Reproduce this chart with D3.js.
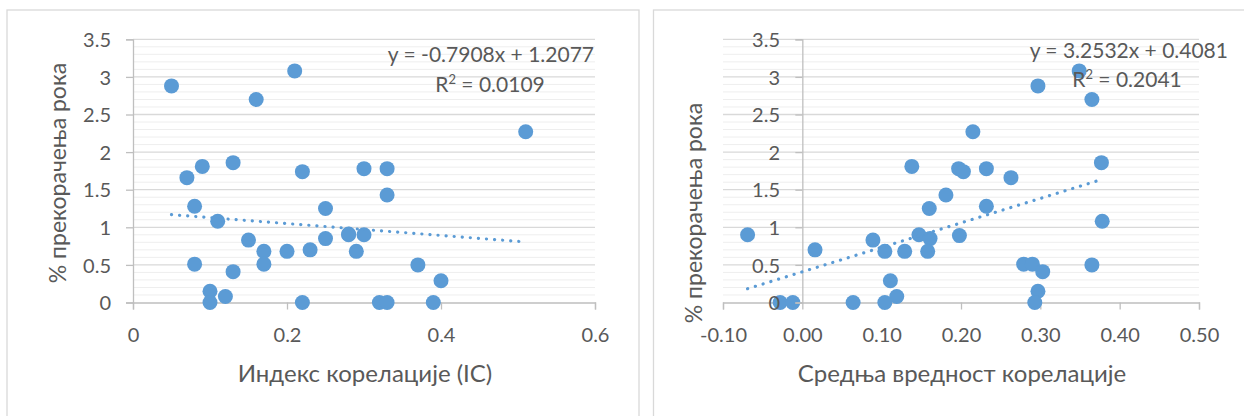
<!DOCTYPE html>
<html>
<head>
<meta charset="utf-8">
<script src="https://cdn.jsdelivr.net/npm/d3@7"></script>
<style>
  html, body { margin: 0; padding: 0; background: #fff; }
  svg { display: block; }
  text { font-family: "Lato", "Carlito", "Open Sans", sans-serif; fill: #595959; }
</style>
</head>
<body>
<svg id="chart" width="1244" height="416"></svg>
<script>
// Overrun percentage for each project
const overrunLeft = [3.08, 2.88, 2.70, 2.27, 1.86, 1.81, 1.78, 1.78, 1.74, 1.66,
                     1.43, 1.28, 1.25, 1.08, 0.90, 0.91, 0.90, 0.85, 0.83, 0.70,
                     0.68, 0.68, 0.68, 0.51, 0.51, 0.50, 0.41, 0.29, 0.15, 0.08,
                     0, 0, 0, 0, 0];
// Correlation index (IC)
const icValues = [0.21, 0.05, 0.16, 0.51, 0.13, 0.09, 0.30, 0.33, 0.22, 0.07,
                  0.33, 0.08, 0.25, 0.11, 0.28, 0.28, 0.30, 0.25, 0.15, 0.23,
                  0.17, 0.20, 0.29, 0.08, 0.17, 0.37, 0.13, 0.40, 0.10, 0.12,
                  0.10, 0.22, 0.32, 0.33, 0.39];

const overrunRight = [3.08, 2.88, 2.70, 2.27, 1.86, 1.81, 1.78, 1.78, 1.74, 1.66,
                      1.43, 1.28, 1.25, 1.08, 0.90, 0.90, 0.89, 0.85, 0.83, 0.70,
                      0.68, 0.68, 0.68, 0.51, 0.51, 0.50, 0.41, 0.29, 0.15, 0.08,
                      0, 0, 0, 0, 0];
// Mean correlation value
const meanCorr = [0.349, 0.297, 0.365, 0.215, 0.377, 0.138, 0.197, 0.232, 0.203, 0.263,
                  0.181, 0.232, 0.160, 0.378, -0.069, 0.147, 0.198, 0.161, 0.089, 0.016,
                  0.104, 0.129, 0.158, 0.279, 0.290, 0.365, 0.303, 0.111, 0.297, 0.119,
                  -0.028, -0.012, 0.064, 0.104, 0.293];

const yTicks = [0, 0.5, 1, 1.5, 2, 2.5, 3, 3.5];
const leftXTicks = [0, 0.2, 0.4, 0.6];
const rightXTicks = [-0.1, 0, 0.1, 0.2, 0.3, 0.4, 0.5];

// Linear trendlines (slope, intercept) and their labels
const leftTrend = { slope: -0.7908, intercept: 1.2077 };
const rightTrend = { slope: 3.2532, intercept: 0.4081 };
const leftEqText = "y = -0.7908x + 1.2077";
const leftR2Text = "0.0109";
const rightEqText = "y = 3.2532x + 0.4081";
const rightR2Text = "0.2041";

const yTitle = "% прекорачења рока";
const leftXTitle = "Индекс корелације (IC)";
const rightXTitle = "Средња вредност корелације";

const svg = d3.select("#chart");
const BLUE = "#5B9BD5";

// number formats with a plain hyphen for negatives
const hyphen = f => v => f(v).replace("\u2212", "-");

// panel frames
svg.append("rect").attr("x", 7).attr("y", 10).attr("width", 632).attr("height", 420)
  .attr("fill", "#fff").attr("stroke", "#d9d9d9").attr("stroke-width", 1.3);
svg.append("rect").attr("x", 653.5).attr("y", 10).attr("width", 620).attr("height", 420)
  .attr("fill", "#fff").attr("stroke", "#d9d9d9").attr("stroke-width", 1.3);

function drawPanel(cfg) {
  const g = svg.append("g");
  const x = d3.scaleLinear().domain(cfg.xDomain).range(cfg.xRange);
  const y = d3.scaleLinear().domain([0, 3.5]).range([302.5, 39.3]);
  const [x0, x1] = cfg.xRange;

  // minor gridlines every 0.1
  const minor = d3.range(1, 35).map(i => i / 10).filter(v => Math.abs(v * 2 - Math.round(v * 2)) > 1e-6);
  g.append("g").selectAll("line").data(minor).join("line")
    .attr("x1", x0).attr("x2", x1)
    .attr("y1", d => y(d)).attr("y2", d => y(d))
    .attr("stroke", "#eeeeee").attr("stroke-width", 1);
  // major gridlines
  g.append("g").selectAll("line").data(yTicks.filter(v => v > 0)).join("line")
    .attr("x1", x0).attr("x2", x1)
    .attr("y1", d => y(d)).attr("y2", d => y(d))
    .attr("stroke", "#d9d9d9").attr("stroke-width", 1.3);

  // x axis
  const xAxis = g.append("g").attr("transform", `translate(0,${y(0)})`)
    .call(d3.axisBottom(x).tickValues(cfg.xTicks).tickSize(7).tickFormat(hyphen(cfg.xFormat)));
  xAxis.select(".domain").attr("stroke", "#bfbfbf").attr("stroke-width", 1.3);
  xAxis.selectAll(".tick line").attr("stroke", "#bfbfbf").attr("stroke-width", 1.3);
  xAxis.selectAll(".tick text").attr("font-size", 20).attr("dy", 0).attr("y", 39)
    .attr("fill", "#595959");
  xAxis.attr("font-family", null);

  // points
  g.append("g").selectAll("circle").data(cfg.xs.map((v, i) => [v, cfg.ys[i]])).join("circle")
    .attr("cx", d => x(d[0])).attr("cy", d => y(d[1])).attr("r", 7.5)
    .attr("fill", BLUE);

  // y axis, labels drawn above the markers
  const yAxis = g.append("g").attr("transform", `translate(${x(0)},0)`)
    .call(d3.axisLeft(y).tickValues(yTicks).tickSize(7).tickFormat(d3.format("")));
  yAxis.select(".domain").attr("stroke", "#bfbfbf").attr("stroke-width", 1.3);
  yAxis.selectAll(".tick line").attr("stroke", "#bfbfbf").attr("stroke-width", 1.3);
  yAxis.selectAll(".tick text").attr("font-size", 20).attr("x", cfg.yLabelX - x(0))
    .attr("dy", "0.36em").attr("fill", "#595959");
  yAxis.attr("font-family", null);

  // dotted linear trendline over the data range
  const [tx0, tx1] = d3.extent(cfg.xs);
  const fy = v => cfg.trend.slope * v + cfg.trend.intercept;
  g.append("line")
    .attr("x1", x(tx0)).attr("y1", y(fy(tx0)))
    .attr("x2", x(tx1)).attr("y2", y(fy(tx1)))
    .attr("stroke", BLUE).attr("stroke-width", 3.2)
    .attr("stroke-linecap", "round").attr("stroke-dasharray", "0.1 8");

  // trendline equation
  g.append("text").attr("x", cfg.eqX).attr("y", cfg.eqY).attr("text-anchor", "end")
    .attr("font-size", 21).text(cfg.eqText);
  const r2 = g.append("text").attr("x", cfg.r2X).attr("y", cfg.eqY + cfg.r2Gap)
    .attr("text-anchor", "middle").attr("font-size", 21);
  r2.append("tspan").text("R");
  r2.append("tspan").attr("font-size", 13).attr("dy", -8).text("2");
  r2.append("tspan").attr("dy", 8).text(" = " + cfg.r2Text);

  // axis titles
  g.append("text").attr("x", cfg.xTitleX).attr("y", 382).attr("text-anchor", "middle")
    .attr("font-size", 24).text(cfg.xTitle);
  g.append("text")
    .attr("transform", `translate(${cfg.yTitleX},${cfg.yTitleY}) rotate(-90)`)
    .attr("text-anchor", "middle").attr("font-size", 23).text(yTitle);
}

drawPanel({
  xDomain: [0, 0.6], xRange: [133, 595], xTicks: leftXTicks, xFormat: d3.format(""),
  xs: icValues, ys: overrunLeft, trend: leftTrend,
  yLabelX: 111,
  eqText: leftEqText, r2Text: leftR2Text, eqX: 594, eqY: 61.5, r2X: 490, r2Gap: 30,
  xTitle: leftXTitle, xTitleX: 365, yTitleX: 66, yTitleY: 173
});

drawPanel({
  xDomain: [-0.1, 0.5], xRange: [723, 1199], xTicks: rightXTicks, xFormat: d3.format(".2f"),
  xs: meanCorr, ys: overrunRight, trend: rightTrend,
  yLabelX: 780,
  eqText: rightEqText, r2Text: rightR2Text, eqX: 1228, eqY: 58, r2X: 1127, r2Gap: 28.5,
  xTitle: rightXTitle, xTitleX: 962, yTitleX: 702, yTitleY: 213
});
</script>
</body>
</html>
